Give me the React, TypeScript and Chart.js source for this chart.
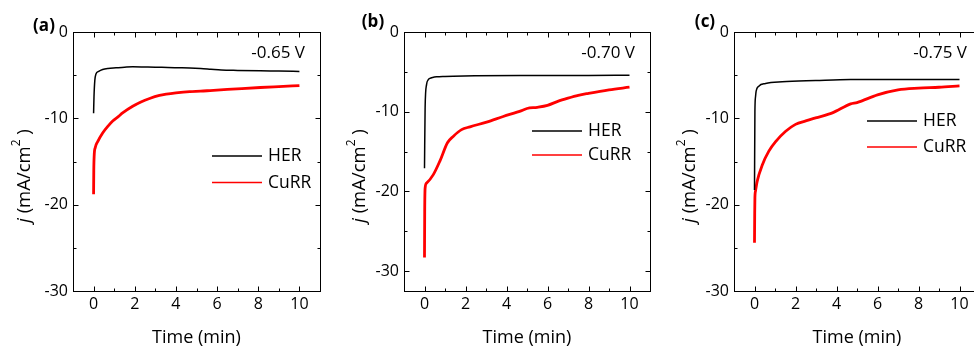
import React, { useEffect, useRef } from 'react';
import { Chart, registerables } from 'chart.js';

Chart.register(...registerables);

// ---------- data ----------
const panelLabels = ['(a)', '(b)', '(c)'];
const potentials = ['-0.65 V', '-0.70 V', '-0.75 V'];
const seriesNames = ['HER', 'CuRR'];
const xTitle = 'Time (min)';
const xTicks = [0, 2, 4, 6, 8, 10];
const xMinorTicks = [1, 3, 5, 7, 9];
const yTicks = [0, -10, -20, -30];
const yMinorTicks = [-5, -15, -25];

// panel (a) -0.65 V
const timeHerA = [0, 0.02, 0.06, 0.11, 0.25, 0.44, 0.7, 1.09, 1.5, 1.9, 2.5, 3.0, 3.6, 4.2, 4.67, 5.2, 5.7, 6.2, 7, 8.1, 9, 10];
const herA = [-9.4, -7.5, -5.6, -4.9, -4.55, -4.34, -4.22, -4.15, -4.08, -4.03, -4.05, -4.07, -4.12, -4.15, -4.18, -4.24, -4.32, -4.4, -4.45, -4.5, -4.53, -4.57];
const timeCurrA = [0, 0.01, 0.03, 0.08, 0.2, 0.44, 0.7, 0.93, 1.2, 1.41, 1.9, 2.3, 2.72, 3.2, 3.53, 4.0, 4.67, 5.2, 5.66, 6.5, 7.2, 8.1, 9, 10];
const currA = [-18.8, -16.0, -14.3, -13.4, -12.7, -11.7, -10.9, -10.3, -9.8, -9.37, -8.6, -8.1, -7.7, -7.35, -7.2, -7.05, -6.9, -6.85, -6.78, -6.65, -6.55, -6.43, -6.32, -6.2];

// panel (b) -0.70 V
const timeHerB = [0, 0.03, 0.1, 0.18, 0.26, 0.4, 0.59, 1.0, 1.4, 2.5, 4.66, 6, 8, 10];
const herB = [-17.1, -9.5, -6.6, -6.0, -5.83, -5.7, -5.62, -5.57, -5.54, -5.5, -5.46, -5.45, -5.45, -5.42];
const timeCurrB = [0, 0.01, 0.03, 0.1, 0.43, 0.75, 1.12, 1.4, 1.81, 2.22, 3.03, 3.84, 4.74, 5.0, 5.5, 6.0, 6.5, 7.0, 7.5, 8.0, 9.0, 10];
const currB = [-28.3, -22.5, -19.6, -18.96, -17.9, -16.2, -13.9, -13.1, -12.25, -11.9, -11.3, -10.6, -9.86, -9.6, -9.45, -9.2, -8.7, -8.3, -7.95, -7.7, -7.26, -6.92];

// panel (c) -0.75 V
const timeHerC = [0, 0.02, 0.05, 0.08, 0.21, 0.54, 1.35, 2.98, 4.69, 7, 10];
const herC = [-18.3, -9.2, -7.5, -6.86, -6.27, -5.97, -5.77, -5.62, -5.5, -5.5, -5.5];
const timeCurrC = [0, 0.01, 0.02, 0.05, 0.13, 0.38, 0.7, 1.03, 1.52, 2.0, 2.5, 2.98, 3.8, 4.69, 5.0, 6.0, 7.0, 8.0, 9.0, 10];
const currC = [-24.4, -21, -19.2, -18.4, -17.3, -15.4, -13.8, -12.7, -11.5, -10.7, -10.3, -9.95, -9.37, -8.33, -8.17, -7.28, -6.7, -6.5, -6.4, -6.24];

const yMins = [-30, -32.5, -30];

// ---------- layout / style ----------
const FONT = '"Open Sans", sans-serif';
const H = 349;
const AREA_TOP = 32;
const AREA_BOTTOM = 291;
const COLORS = ['#000000', '#ff0000'];
const WIDTHS = [1.5, 2.8];

const layouts = [
  { canvasLeft: 0, canvasWidth: 325, areaLeft: 73, areaRight: 320, yTitleX: 25, labelX: 44, labelY: 26.5, legendX: 212, legendY: 156, legendGap: 26.5, potInset: 15 },
  { canvasLeft: 325, canvasWidth: 330, areaLeft: 404, areaRight: 650, yTitleX: 35, labelX: 48, labelY: 21.7, legendX: 532, legendY: 131, legendGap: 24, potInset: 15 },
  { canvasLeft: 655, canvasWidth: 335, areaLeft: 734, areaRight: 980, yTitleX: 35, labelX: 50, labelY: 21.7, legendX: 867, legendY: 121, legendGap: 26, potInset: 13 },
];

const panelData = [
  { herT: timeHerA, her: herA, curT: timeCurrA, cur: currA },
  { herT: timeHerB, her: herB, curT: timeCurrB, cur: currB },
  { herT: timeHerC, her: herC, curT: timeCurrC, cur: currC },
];

const decoPlugin = {
  id: 'panelDeco',
  afterDraw(chart: any, _args: any, opts: any) {
    const { ctx, chartArea: a, scales } = chart;
    const x = scales.x;
    const y = scales.y;
    const L = opts.layout;
    ctx.save();
    ctx.strokeStyle = '#000';
    ctx.lineWidth = 1;
    const line = (x1: number, y1: number, x2: number, y2: number) => {
      ctx.beginPath();
      ctx.moveTo(x1, y1);
      ctx.lineTo(x2, y2);
      ctx.stroke();
    };
    const left = Math.round(a.left) + 0.5;
    const right = Math.round(a.right) + 0.5;
    const top = Math.round(a.top) + 0.5;
    const bottom = Math.round(a.bottom) + 0.5;
    ctx.strokeRect(left, top, right - left, bottom - top);
    const vt = (v: number, len: number) => {
      const px = Math.round(x.getPixelForValue(v)) + 0.5;
      line(px, bottom, px, bottom - len);
      line(px, top, px, top + len);
    };
    const ht = (v: number, len: number) => {
      const py = Math.round(y.getPixelForValue(v)) + 0.5;
      line(left, py, left + len, py);
      line(right, py, right - len, py);
    };
    xTicks.forEach((v) => vt(v, 5));
    xMinorTicks.forEach((v) => vt(v, 3));
    yTicks.forEach((v) => { if (v > y.min && v < y.max) ht(v, 5); });
    yMinorTicks.forEach((v) => ht(v, 3));

    ctx.fillStyle = '#000';
    // panel label
    ctx.font = `bold 17px ${FONT}`;
    ctx.textAlign = 'center';
    ctx.textBaseline = 'middle';
    ctx.fillText(opts.label, L.labelX, L.labelY);

    // potential
    ctx.font = `17px ${FONT}`;
    ctx.textAlign = 'right';
    ctx.fillText(opts.potential, a.right - L.potInset, a.top + 21);

    // legend
    chart.data.datasets.forEach((ds: any, i: number) => {
      const ly = L.legendY + i * L.legendGap;
      const lx = L.legendX - L.canvasLeft;
      ctx.strokeStyle = ds.borderColor;
      ctx.lineWidth = 1.6;
      line(lx, ly, lx + 50, ly);
      ctx.fillStyle = '#000';
      ctx.font = `17.5px ${FONT}`;
      ctx.textAlign = 'left';
      ctx.textBaseline = 'middle';
      ctx.fillText(ds.label, lx + 56, ly + 0.5);
    });

    // y title: j (mA/cm^2 )
    ctx.save();
    ctx.translate(L.yTitleX, 176);
    ctx.rotate(-Math.PI / 2);
    ctx.textAlign = 'left';
    ctx.textBaseline = 'middle';
    const parts = [
      { t: 'j', f: `italic 18.5px ${FONT}`, dy: 0 },
      { t: ' (mA/cm', f: `18.5px ${FONT}`, dy: 0 },
      { t: '2', f: `12px ${FONT}`, dy: -8 },
      { t: ' )', f: `18.5px ${FONT}`, dy: 0 },
    ];
    let total = 0;
    parts.forEach((p) => { ctx.font = p.f; total += ctx.measureText(p.t).width; });
    let cx = -total / 2;
    parts.forEach((p) => {
      ctx.font = p.f;
      ctx.fillText(p.t, cx, p.dy);
      cx += ctx.measureText(p.t).width;
    });
    ctx.restore();
    ctx.restore();
  },
};

function Panel({ idx }: { idx: number }) {
  const ref = useRef<HTMLCanvasElement>(null);
  const L = layouts[idx];
  useEffect(() => {
    const d = panelData[idx];
    const chart = new Chart(ref.current as HTMLCanvasElement, {
      type: 'line',
      data: {
        datasets: [
          {
            label: seriesNames[0],
            data: d.herT.map((t, i) => ({ x: t, y: d.her[i] })),
            borderColor: COLORS[0],
            borderWidth: WIDTHS[0],
            pointRadius: 0,
            fill: false,
            cubicInterpolationMode: 'monotone',
          },
          {
            label: seriesNames[1],
            data: d.curT.map((t, i) => ({ x: t, y: d.cur[i] })),
            borderColor: COLORS[1],
            borderWidth: WIDTHS[1],
            pointRadius: 0,
            fill: false,
            cubicInterpolationMode: 'monotone',
          },
        ],
      },
      options: {
        responsive: false,
        animation: false,
        devicePixelRatio: 1,
        layout: {
          padding: {
            top: AREA_TOP,
            right: L.canvasWidth - (L.areaRight - L.canvasLeft),
            left: 0,
            bottom: 0,
          },
        },
        plugins: {
          legend: { display: false },
          tooltip: { enabled: false },
          panelDeco: { label: panelLabels[idx], potential: potentials[idx], layout: L },
        } as any,
        scales: {
          x: {
            type: 'linear',
            position: 'bottom',
            min: -1,
            max: 11,
            afterBuildTicks: (s: any) => { s.ticks = xTicks.map((v) => ({ value: v })); },
            afterFit: (s: any) => { s.height = H - AREA_BOTTOM; },
            grid: { display: false, drawTicks: false },
            border: { display: false },
            ticks: {
              color: '#000',
              font: { family: FONT, size: 16 },
              padding: 4,
              maxRotation: 0,
              autoSkip: false,
              callback: (v: any) => String(v),
            },
            title: {
              display: true,
              text: xTitle,
              color: '#000',
              font: { family: FONT, size: 18 },
              padding: { top: 0, bottom: 0 },
            },
          },
          y: {
            type: 'linear',
            position: 'left',
            min: yMins[idx],
            max: 0,
            afterBuildTicks: (s: any) => { s.ticks = yTicks.map((v) => ({ value: v })); },
            afterFit: (s: any) => { s.width = L.areaLeft - L.canvasLeft; },
            grid: { display: false, drawTicks: false },
            border: { display: false },
            ticks: {
              color: '#000',
              font: { family: FONT, size: 16 },
              padding: 5,
              autoSkip: false,
              callback: (v: any) => String(v),
            },
          },
        },
      } as any,
      plugins: [decoPlugin],
    });
    return () => chart.destroy();
  }, [idx]);
  return (
    <canvas
      ref={ref}
      width={L.canvasWidth}
      height={H}
      style={{ position: 'absolute', left: L.canvasLeft, top: 0, width: L.canvasWidth, height: H }}
    />
  );
}

export default function App() {
  return (
    <div style={{ position: 'absolute', left: 0, top: 0, width: 974, height: H, overflow: 'hidden', background: '#fff' }}>
      <Panel idx={0} />
      <Panel idx={1} />
      <Panel idx={2} />
    </div>
  );
}
